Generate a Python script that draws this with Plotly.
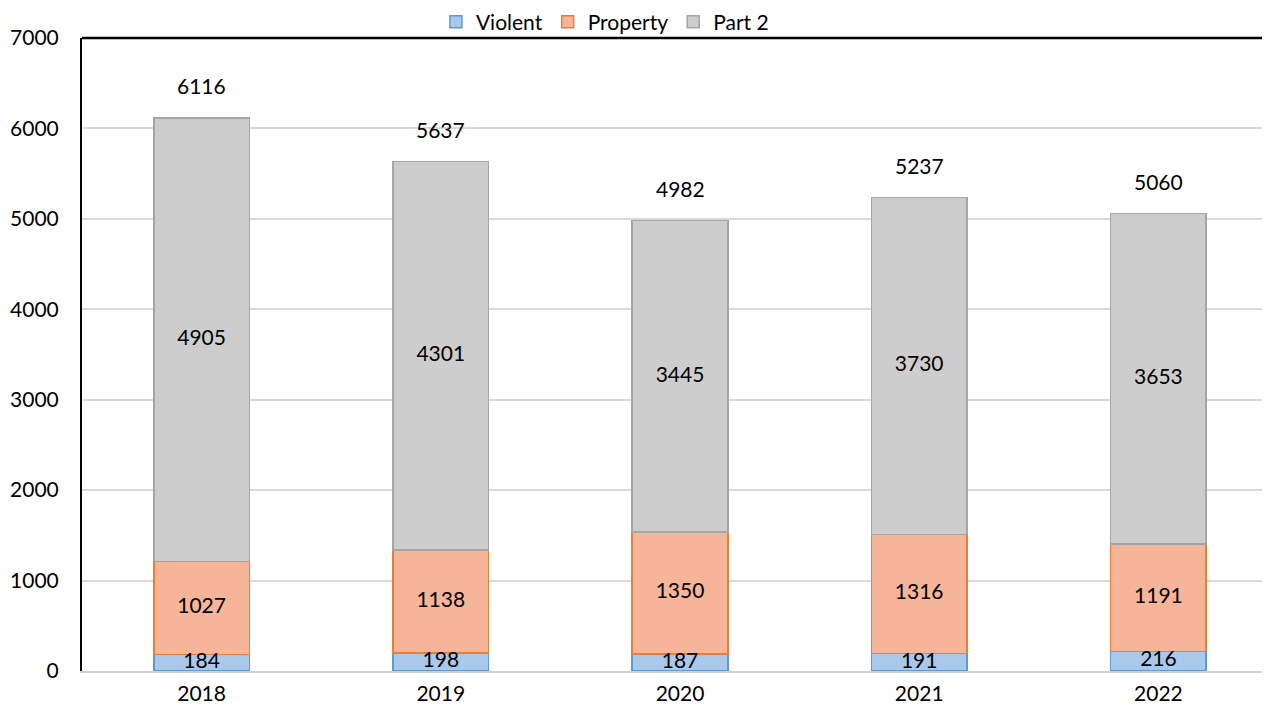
import plotly.graph_objects as go
import numpy as np

years = ["2018", "2019", "2020", "2021", "2022"]
violent = [184, 198, 187, 191, 216]
property_ = [1027, 1138, 1350, 1316, 1191]
part2 = [4905, 4301, 3445, 3730, 3653]
totals = [6116, 5637, 4982, 5237, 5060]

FONT = "Lato"
fs = 21

fig = go.Figure()
fig.add_bar(x=years, y=violent, name="Violent",
            marker=dict(color="#a9c8ea", line=dict(color="#5b9bd5", width=1.5)))
fig.add_bar(x=years, y=property_, name="Property",
            marker=dict(color="#f6b498", line=dict(color="#ed7d31", width=1.5)))
fig.add_bar(x=years, y=part2, name="Part 2",
            marker=dict(color="#cdcdcd", line=dict(color="#a5a5a5", width=1.5)))

v = np.array(violent)
p = np.array(property_)
q = np.array(part2)
mids = [v / 2, v + p / 2, v + p + q / 2]
texts = [violent, property_, part2]
for m, t in zip(mids, texts):
    fig.add_scatter(x=years, y=m, mode="text", text=[str(s) for s in t],
                    textfont=dict(family=FONT, size=fs, color="black"),
                    showlegend=False, hoverinfo="skip")

for i, tot in enumerate(totals):
    fig.add_annotation(x=i, y=tot, text=str(tot), showarrow=False, yshift=32,
                       font=dict(family=FONT, size=fs, color="black"))

fig.add_shape(type="line", xref="paper", yref="paper", x0=0, x1=1, y0=1, y1=1,
              line=dict(color="black", width=2.5))

fig.update_layout(
    barmode="stack",
    bargap=0.6,
    width=1270, height=711,
    margin=dict(l=74, r=0, t=30, b=48, autoexpand=False),
    plot_bgcolor="white", paper_bgcolor="white",
    font=dict(family=FONT, size=fs, color="black"),
    legend=dict(orientation="h", x=0.470, xanchor="center", xref="container",
                y=1.0253, yanchor="middle", yref="paper", traceorder="normal",
                font=dict(family=FONT, size=21), itemwidth=30, tracegroupgap=0,
                bgcolor="rgba(0,0,0,0)"),
    showlegend=True,
)
fig.update_xaxes(type="category", showline=True, linecolor="#d0d0d0", linewidth=2,
                 showgrid=False, ticks="", ticklabelstandoff=3,
                 tickfont=dict(family=FONT, size=fs))
fig.update_yaxes(range=[0, 7000], dtick=1000, showgrid=True, gridcolor="#d9d9d9",
                 gridwidth=1.5, showline=True, linecolor="black", linewidth=2,
                 zeroline=False, ticks="", ticklabelstandoff=17,
                 tickfont=dict(family=FONT, size=fs))

fig.write_html("out.html")
